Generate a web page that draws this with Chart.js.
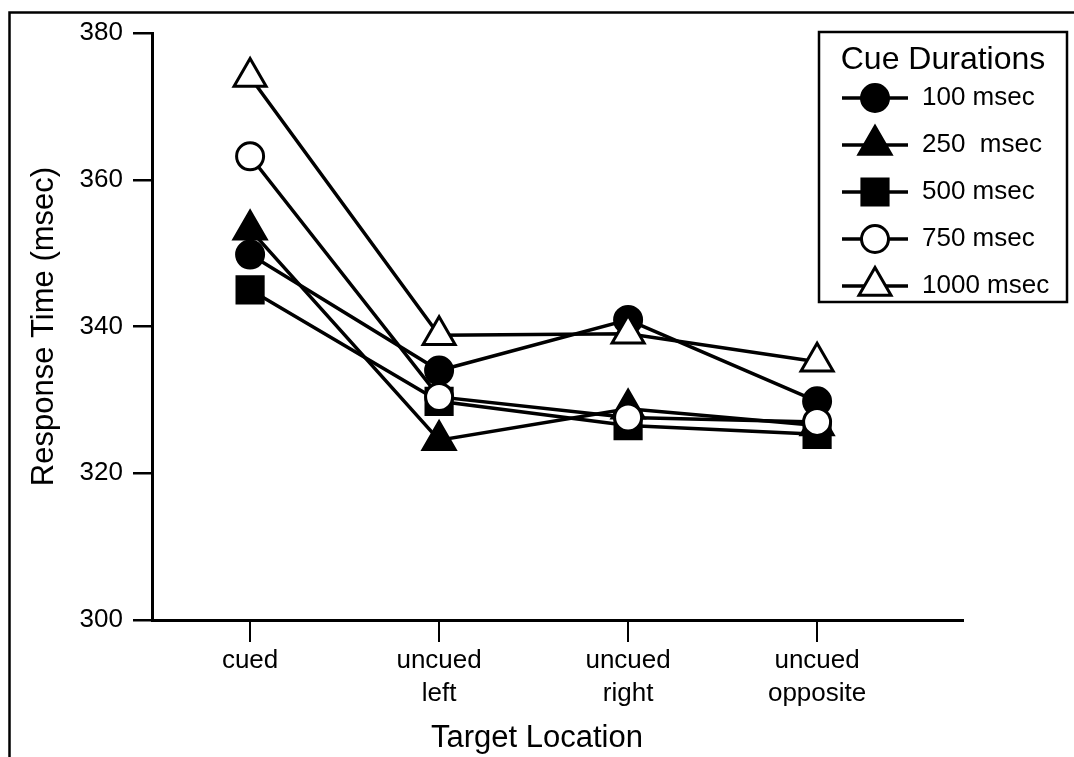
<!DOCTYPE html>
<html>
<head>
<meta charset="utf-8">
<script src="https://cdn.jsdelivr.net/npm/chart.js@4.4.1/dist/chart.umd.min.js"></script>
<style>
  html, body { margin: 0; padding: 0; background: #fff; }
  #wrap { position: relative; width: 1074px; height: 757px; }
</style>
</head>
<body>
<div id="wrap"><canvas id="rtChart" width="1074" height="757"></canvas></div>
<script>
// Target locations (x categories)
const locations = [['cued'], ['uncued', 'left'], ['uncued', 'right'], ['uncued', 'opposite']];

// Cue durations (series labels)
const durations = ['100 msec', '250  msec', '500 msec', '750 msec', '1000 msec'];

// Response times (msec) per target location
const rt100  = [349.8, 334.0, 340.9, 329.8];
const rt250  = [353.2, 324.5, 328.8, 326.5];
const rt500  = [345.0, 329.8, 326.5, 325.3];
const rt750  = [363.2, 330.4, 327.6, 327.0];
const rt1000 = [374.0, 338.8, 339.0, 335.2];

const yTicks = [300, 320, 340, 360, 380];

const FONT = "'Liberation Sans', Arial, Helvetica, sans-serif";

function series(label, values, style, fill, radius, order) {
    return {
        label: label,
        data: values.map((v, i) => ({ x: i, y: v })),
        borderColor: '#000',
        borderWidth: 3.5,
        pointStyle: style,
        pointRadius: radius,
        pointHoverRadius: radius,
        pointBackgroundColor: fill,
        pointBorderColor: '#000',
        pointBorderWidth: 3,
        fill: false,
        tension: 0,
        order: order
    };
}

// figure frame (left + top rule)
const framePlugin = {
    id: 'frame',
    beforeDraw(chart) {
        const ctx = chart.ctx;
        ctx.save();
        ctx.strokeStyle = '#000';
        ctx.lineWidth = 2.5;
        ctx.beginPath();
        ctx.moveTo(9.5, 757);
        ctx.lineTo(9.5, 12.5);
        ctx.lineTo(1074, 12.5);
        ctx.stroke();
        ctx.restore();
    }
};

// x axis title sits a bit left of the axis centre in the original
const xTitle = {
    id: 'xTitle',
    afterDraw(chart) {
        const ctx = chart.ctx;
        ctx.save();
        ctx.fillStyle = '#000';
        ctx.font = '31px ' + FONT;
        ctx.textAlign = 'center';
        ctx.textBaseline = 'middle';
        ctx.fillText('Target Location', 537, 738);
        ctx.restore();
    }
};

// boxed legend with line + marker samples
const legendBox = {
    id: 'legendBox',
    afterDraw(chart) {
        const ctx = chart.ctx;
        const x0 = 819, y0 = 32, x1 = 1067, y1 = 302;
        ctx.save();
        ctx.fillStyle = '#fff';
        ctx.fillRect(x0, y0, x1 - x0, y1 - y0);
        ctx.strokeStyle = '#000';
        ctx.lineWidth = 2.5;
        ctx.strokeRect(x0, y0, x1 - x0, y1 - y0);

        ctx.fillStyle = '#000';
        ctx.font = '32px ' + FONT;
        ctx.textAlign = 'center';
        ctx.textBaseline = 'middle';
        ctx.fillText('Cue Durations', (x0 + x1) / 2, 60);

        ctx.font = '26px ' + FONT;
        ctx.textAlign = 'left';
        chart.data.datasets.forEach((ds, i) => {
            const y = 98 + i * 47;
            ctx.strokeStyle = '#000';
            ctx.lineWidth = 3.5;
            ctx.beginPath();
            ctx.moveTo(842, y);
            ctx.lineTo(908, y);
            ctx.stroke();
            ctx.fillStyle = ds.pointBackgroundColor;
            ctx.lineWidth = ds.pointBorderWidth;
            Chart.helpers.drawPoint(ctx, { pointStyle: ds.pointStyle, radius: ds.pointRadius, borderWidth: ds.pointBorderWidth }, 875, y);
            ctx.fillStyle = '#000';
            ctx.fillText(ds.label, 922, y);
        });
        ctx.restore();
    }
};

new Chart(document.getElementById('rtChart'), {
    type: 'line',
    data: {
        datasets: [
            series(durations[0], rt100, 'circle', '#000', 13.5, 3),
            series(durations[1], rt250, 'triangle', '#000', 18.5, 4),
            series(durations[2], rt500, 'rect', '#000', 18.5, 5),
            series(durations[3], rt750, 'circle', '#fff', 13.5, 2),
            series(durations[4], rt1000, 'triangle', '#fff', 18.5, 1)
        ]
    },
    options: {
        responsive: false,
        animation: false,
        layout: { padding: { left: 22, top: 33, right: 111, bottom: 3 } },
        plugins: { legend: { display: false }, tooltip: { enabled: false } },
        scales: {
            x: {
                type: 'linear',
                min: -0.519,
                max: 3.772,
                afterBuildTicks: (scale) => { scale.ticks = locations.map((_, i) => ({ value: i })); },
                afterFit: (scale) => { scale.height = 134; },
                border: { display: true, color: '#000', width: 3 },
                grid: { drawOnChartArea: false, drawTicks: true, tickLength: 22, color: '#000', lineWidth: 2 },
                ticks: {
                    color: '#000',
                    font: { family: FONT, size: 26, lineHeight: 1.25 },
                    padding: 3,
                    maxRotation: 0,
                    autoSkip: false,
                    callback: (v) => locations[v]
                },
                title: { display: false }
            },
            y: {
                min: 300,
                max: 380,
                afterBuildTicks: (scale) => { scale.ticks = yTicks.map(v => ({ value: v })); },
                afterFit: (scale) => { scale.width = 152 - 22; },
                border: { display: true, color: '#000', width: 3 },
                grid: { drawOnChartArea: false, drawTicks: true, tickLength: 19, color: '#000', lineWidth: 2.5 },
                ticks: { color: '#000', font: { family: FONT, size: 26 }, padding: 10 },
                title: { display: true, text: 'Response Time (msec)', color: '#000', font: { family: FONT, size: 31 } }
            }
        }
    },
    plugins: [framePlugin, xTitle, legendBox]
});
</script>
</body>
</html>
